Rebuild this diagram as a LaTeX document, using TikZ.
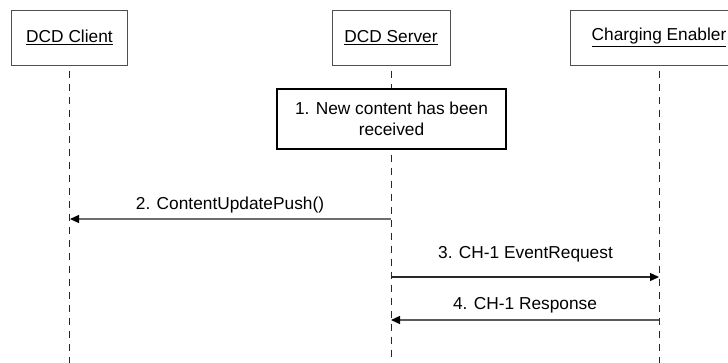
\documentclass[tikz,border=0pt]{standalone}
\usepackage{fontspec}
\setmainfont{Liberation Sans}
\usetikzlibrary{arrows.meta}
\begin{document}
\begin{tikzpicture}[x=1bp,y=-1bp,
  every node/.style={font=\fontsize{17.3bp}{21bp}\selectfont},
  actorbox/.style={draw={rgb,255:red,80;green,80;blue,80},line width=1bp,minimum height=55bp,inner sep=0pt},
  notebox/.style={draw=black,line width=1.4bp,minimum width=229bp,minimum height=60bp,align=center,inner sep=0pt},
  lifeline/.style={draw={rgb,255:red,40;green,40;blue,40},line width=0.9bp,dash pattern=on 7bp off 6bp,dash phase=-5bp},
  msg/.style={line width=1.3bp,-{Triangle[length=9bp,width=8bp,color=black,fill=black]}},
  msglabel/.style={anchor=base,inner sep=0pt}]
\useasboundingbox (0,0) rectangle (728,362);
\fill[white] (0,0) rectangle (728,362);
\clip (0,0) rectangle (728,362);
\coordinate (bottom) at (0,363);
\node[actorbox,minimum width=116bp] (client) at (69.5,37.5) {\underline{DCD Client}};
\node[actorbox,minimum width=118bp] (server) at (391,37.5) {\underline{DCD Server}};
\node[actorbox,minimum width=178bp] (ce) at (659,37.5) {\underline{Charging Enabler}};
\node[notebox] (note) at (391.5,119) {1. New content has been\\received};
\draw[lifeline] (client.south) -- (client.south |- bottom);
\draw[lifeline] (server.south) -- (note.north -| server.south);
\draw[lifeline] (note.south -| server.south) -- (server.south |- bottom);
\draw[lifeline] (ce.south) -- (ce.south |- bottom);
\coordinate (m2s) at (391,219);
\coordinate (m2e) at (70,219);
\coordinate (m3s) at (391,277);
\coordinate (m3e) at (659,277);
\coordinate (m4s) at (659,320);
\coordinate (m4e) at (391,320);
\draw[msg,draw={rgb,255:red,110;green,110;blue,110}] (m2s) -- (m2e);
\draw[msg,draw={rgb,255:red,40;green,40;blue,40}] (m3s) -- (m3e);
\draw[msg,draw={rgb,255:red,90;green,90;blue,90}] (m4s) -- (m4e);
\node[msglabel] (l2) at (230,209.5) {2. ContentUpdatePush()};
\node[msglabel] (l3) at (525.5,258.5) {3. CH-1 EventRequest};
\node[msglabel] (l4) at (525,309) {4. CH-1 Response};
\end{tikzpicture}
\end{document}
